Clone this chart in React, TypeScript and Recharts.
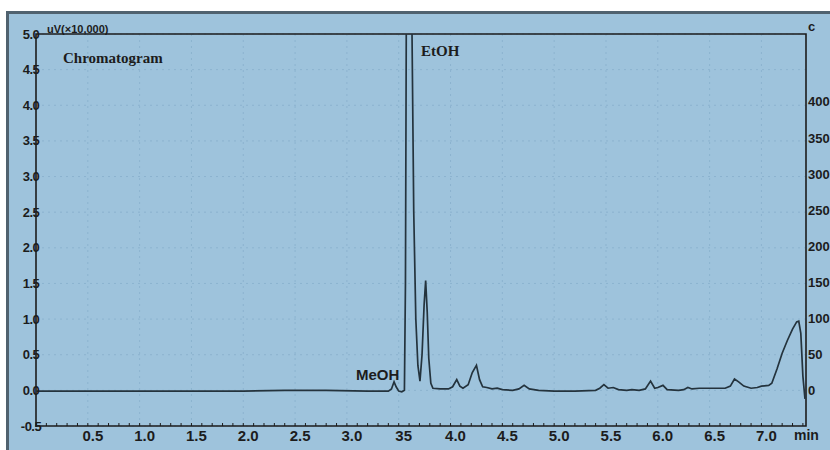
import { LineChart, Line, XAxis, YAxis, CartesianGrid, ReferenceArea } from 'recharts';

// retention time (min) and detector signal (uV x 10,000)
const times = [
  0, 1.0, 2.0, 2.4, 2.8, 3.2, 3.4, 3.43, 3.455, 3.475, 3.5, 3.53, 3.555, 3.565, 3.575, 3.595,
  3.615, 3.625, 3.645, 3.665, 3.685, 3.705, 3.725, 3.745, 3.76, 3.775, 3.79, 3.81, 3.83, 3.9,
  3.98, 4.02, 4.06, 4.09, 4.12, 4.17, 4.21, 4.25, 4.28, 4.31, 4.35, 4.4, 4.45, 4.5, 4.6,
  4.66, 4.71, 4.76, 4.85, 5.0, 5.2, 5.4, 5.44, 5.48, 5.52, 5.57, 5.62, 5.7, 5.75, 5.82,
  5.88, 5.93, 5.97, 6.0, 6.05, 6.09, 6.2, 6.25, 6.29, 6.33, 6.4, 6.5, 6.65, 6.7, 6.74,
  6.78, 6.83, 6.9, 6.96, 7.0, 7.07, 7.1, 7.15, 7.2, 7.25, 7.3, 7.34, 7.36, 7.38, 7.4, 7.42,
];
const signal = [
  -0.01, -0.01, -0.01, 0.0, 0.0, -0.01, -0.01, 0.02, 0.12, 0.05, -0.01, -0.02, 0.0, 1.5, 6, 12,
  9, 5.5, 2.5, 1.0, 0.35, 0.13, 0.5, 1.2, 1.54, 1.1, 0.45, 0.1, 0.03, 0.02,
  0.02, 0.05, 0.15, 0.06, 0.03, 0.08, 0.25, 0.35, 0.15, 0.05, 0.04, 0.02, 0.03, 0.01, 0.0,
  0.02, 0.07, 0.02, 0.0, -0.01, -0.01, 0.0, 0.03, 0.08, 0.03, 0.04, 0.01, 0.0, 0.01, 0.0,
  0.02, 0.13, 0.03, 0.04, 0.07, 0.01, 0.0, 0.01, 0.04, 0.02, 0.03, 0.03, 0.03, 0.06, 0.16,
  0.12, 0.06, 0.03, 0.04, 0.06, 0.07, 0.1, 0.3, 0.52, 0.7, 0.86, 0.96, 0.97, 0.8, 0.2, -0.12,
];

const xTicks = [0.5, 1.0, 1.5, 2.0, 2.5, 3.0, 3.5, 4.0, 4.5, 5.0, 5.5, 6.0, 6.5, 7.0];
const xTickLabels = ['0.5', '1.0', '1.5', '2.0', '2.5', '3.0', '35', '4.0', '4.5', '5.0', '5.5', '6.0', '6.5', '7.0'];
const leftTicks = [-0.5, 0.0, 0.5, 1.0, 1.5, 2.0, 2.5, 3.0, 3.5, 4.0, 4.5, 5.0];
const rightTicks = [0, 50, 100, 150, 200, 250, 300, 350, 400];

const data = times.map((t, i) => ({ t, v: signal[i] }));
const minorTicks = Array.from({ length: 74 }, (_, i) => (i + 1) / 10);

const BG = '#9ec3dc';
const INK = '#1c1c1c';
const tickFont = { fontFamily: '"Liberation Sans", Arial, sans-serif', fontWeight: 700 };

const XTick = (props: any) => {
  const { x, y, payload } = props;
  const idx = xTicks.findIndex((t) => Math.abs(t - payload.value) < 1e-6);
  return (
    <g>
      <line x1={x} y1={y} x2={x} y2={y - 3} stroke={INK} strokeWidth={1} />
      {idx >= 0 && (
        <text x={x + 5} y={y + 9} textAnchor="middle" dominantBaseline="central" fontSize={15} fill={INK} style={tickFont}>
          {xTickLabels[idx]}
        </text>
      )}
    </g>
  );
};

const LeftTick = (props: any) => {
  const { x, y, payload } = props;
  return (
    <text x={x - 5} y={y} textAnchor="middle" dominantBaseline="central" fontSize={13} fill={INK} style={tickFont} letterSpacing={-0.5}>
      {payload.value.toFixed(1)}
    </text>
  );
};

const RightTick = (props: any) => {
  const { x, y, payload } = props;
  return (
    <text x={x + 2} y={y} textAnchor="start" dominantBaseline="central" fontSize={13} fill={INK} style={tickFont}>
      {payload.value}
    </text>
  );
};

const label = (left: number, top: number, size: number, serif: boolean, text: string) => (
  <div
    style={{
      position: 'absolute',
      left,
      top,
      fontSize: size,
      lineHeight: `${size}px`,
      fontWeight: 700,
      color: INK,
      whiteSpace: 'nowrap',
      fontFamily: serif ? '"Liberation Serif", "Times New Roman", serif' : '"Liberation Sans", Arial, sans-serif',
    }}
  >
    {text}
  </div>
);

export default function App() {
  return (
    <div style={{ position: 'absolute', left: 0, top: 0, width: 830, height: 450, background: '#fff', overflow: 'hidden' }}>
      <div
        style={{
          position: 'absolute',
          left: 6,
          top: 11,
          right: 0,
          bottom: 0,
          background: BG,
          borderLeft: '3px solid #50626f',
          borderTop: '3px solid #50626f',
        }}
      />
      <div style={{ position: 'absolute', left: 0, top: 0 }}>
        <LineChart width={830} height={450} data={data} margin={{ top: 34, right: 0, bottom: 0, left: 0 }}>
          <CartesianGrid
            yAxisId="left"
            stroke="#8cb3cf"
            strokeDasharray="2 4"
            verticalValues={xTicks}
          />
          <XAxis
            dataKey="t"
            type="number"
            domain={[0, 7.43]}
            ticks={minorTicks}
            allowDataOverflow
            interval={0}
            height={24}
            tickSize={0}
            tickMargin={0}
            tickLine={false}
            axisLine={false}
            tick={<XTick />}
          />
          <YAxis
            yAxisId="left"
            type="number"
            domain={[-0.5, 5]}
            ticks={leftTicks}
            allowDataOverflow
            interval={0}
            width={36}
            tickSize={0}
            tickMargin={0}
            tickLine={false}
            axisLine={false}
            tick={<LeftTick />}
          />
          <YAxis
            yAxisId="right"
            orientation="right"
            type="number"
            domain={[-49.4, 494.3]}
            ticks={rightTicks}
            allowDataOverflow
            interval={0}
            width={24}
            tickSize={0}
            tickMargin={0}
            tickLine={false}
            axisLine={false}
            tick={<RightTick />}
          />
          <ReferenceArea
            yAxisId="left"
            x1={0}
            x2={7.43}
            y1={-0.5}
            y2={5}
            fill="none"
            stroke={INK}
            strokeWidth={1.6}
          />
          <Line
            yAxisId="left"
            type="linear"
            dataKey="v"
            stroke="#24333d"
            strokeWidth={1.7}
            dot={false}
            isAnimationActive={false}
          />
        </LineChart>
      </div>
      {label(47, 24, 11, false, 'uV(×10,000)')}
      {label(63, 51, 15, true, 'Chromatogram')}
      {label(421, 44, 15, true, 'EtOH')}
      {label(356, 367, 15, false, 'MeOH')}
      {label(794, 428, 14, false, 'min')}
      {label(808, 20, 13, false, 'c')}
    </div>
  );
}
